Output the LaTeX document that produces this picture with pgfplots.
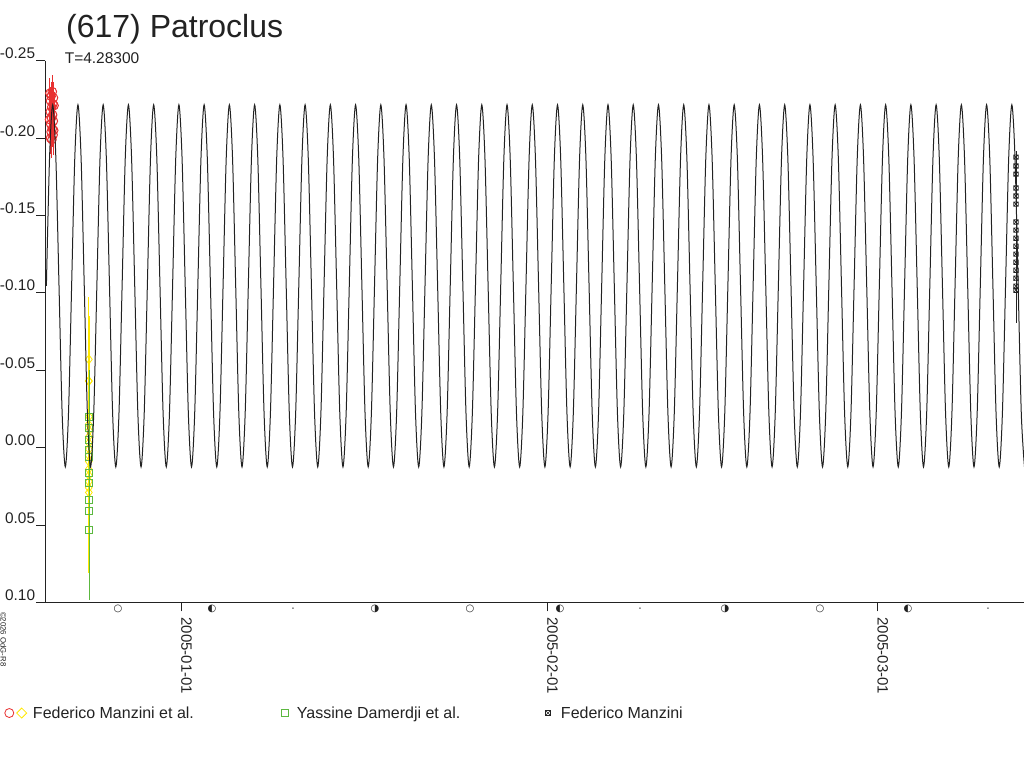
\documentclass[border=0pt]{standalone}
\usepackage{fontspec}
\setmainfont{Liberation Sans}
\newfontfamily\dejavu{DejaVu Sans}
\usepackage{pgfplots}
\pgfplotsset{compat=1.18}
\definecolor{cred}{RGB}{232,48,48}
\definecolor{cyellow}{RGB}{255,232,0}
\definecolor{cgreen}{RGB}{92,184,64}
\definecolor{ctext}{RGB}{34,34,34}
\pgfdeclareplotmark{sqx}{%
  \pgfpathrectangle{\pgfpoint{-\pgfplotmarksize}{-\pgfplotmarksize}}{\pgfpoint{2\pgfplotmarksize}{2\pgfplotmarksize}}%
  \pgfpathmoveto{\pgfpoint{-\pgfplotmarksize}{-\pgfplotmarksize}}%
  \pgfpathlineto{\pgfpoint{\pgfplotmarksize}{\pgfplotmarksize}}%
  \pgfpathmoveto{\pgfpoint{-\pgfplotmarksize}{\pgfplotmarksize}}%
  \pgfpathlineto{\pgfpoint{\pgfplotmarksize}{-\pgfplotmarksize}}%
  \pgfusepathqstroke}
\begin{document}
\begin{tikzpicture}[x=1bp,y=1bp]
\useasboundingbox (-45.3,-165.7) rectangle (978.7,602.3);
\begin{axis}[
  at={(0,0)}, anchor=south west, scale only axis,
  width=978.7bp, height=541.6bp,
  xmin=-11.542, xmax=71.398,
  ymin=-0.25, ymax=0.10, y dir=reverse,
  axis x line=bottom, axis y line=left,
  axis line style={-, ctext, line width=0.8bp},
  xtick={0,31,59},
  xticklabels={2005-01-01,2005-02-01,2005-03-01},
  ytick={-0.25,-0.2,-0.15,-0.1,-0.05,0,0.05,0.1},
  yticklabels={-0.25,-0.20,-0.15,-0.10,-0.05,0.00,0.05,0.10},
  tick align=outside, major tick length=9bp,
  tick style={ctext, line width=0.8bp},
  minor tick num=0,
  yticklabel style={font=\fontsize{15.4bp}{18bp}\selectfont, text=ctext, anchor=south east, inner sep=0pt, xshift=-1bp, yshift=1.5bp},
  xticklabel style={font=\fontsize{15bp}{18bp}\selectfont, text=ctext, yshift=-6bp, rotate=-90, anchor=base west, inner sep=0pt},
  clip mode=individual,
  legend columns=3,
  legend style={at={(axis description cs:-0.0422,-0.2044)}, anchor=west, draw=none, fill=none,
    inner sep=0pt, outer sep=0pt, column sep=0pt, row sep=0pt,
    font=\fontsize{16bp}{19bp}\selectfont, text=ctext, nodes={inner sep=0pt, outer sep=0pt}},
]
% Federico Manzini et al. (red)
\addplot[only marks, mark=o, mark size=4.3bp, cred, mark options={line width=1bp},
  legend image code/.code={
    \path[draw=none, fill=none] (0bp,-6bp) rectangle (29bp,6bp);
    \draw[cred, line width=0.8bp] (5.3bp,0bp) circle (4.5bp);
    \draw[cyellow, line width=0.8bp] (17.7bp,5bp) -- (22.7bp,0bp) -- (17.7bp,-5bp) -- (12.7bp,0bp) -- cycle;
  },
  error bars/.cd, y dir=both, y explicit, error mark=none, error bar style={cred, line width=1bp},
  ]
  coordinates {
  (-11.15,-0.229) +- (0,0.010) (-11.05,-0.227) +- (0,0.009) (-10.95,-0.230) +- (0,0.011)
  (-10.85,-0.226) +- (0,0.010) (-11.10,-0.224) +- (0,0.009) (-10.90,-0.222) +- (0,0.010)
  (-11.00,-0.220) +- (0,0.011) (-10.80,-0.221) +- (0,0.009) (-11.12,-0.217) +- (0,0.010)
  (-10.92,-0.215) +- (0,0.009) (-11.02,-0.213) +- (0,0.010) (-10.86,-0.211) +- (0,0.011)
  (-11.08,-0.209) +- (0,0.010) (-10.95,-0.206) +- (0,0.012) (-11.05,-0.204) +- (0,0.010)
  (-10.88,-0.202) +- (0,0.013) (-11.10,-0.200) +- (0,0.010) (-10.98,-0.199) +- (0,0.012)
  (-10.83,-0.205) +- (0,0.010) (-11.18,-0.212) +- (0,0.009)
  };
\addlegendentry{\makebox[246bp][l]{Federico Manzini et al.}}
% Federico Manzini et al. (yellow)
\addplot[only marks, mark=diamond, mark size=4.5bp, cyellow, mark options={line width=0.8bp}, forget plot,
  error bars/.cd, y dir=both, y explicit, error mark=none, error bar style={cyellow, line width=2.2bp},
  ]
  coordinates {
  (-7.85,-0.057) +- (0,0.028) (-7.86,-0.043) +- (0,0.030) (-7.84,-0.020) +- (0,0.035)
  (-7.87,-0.015) +- (0,0.040) (-7.83,-0.011) +- (0,0.035) (-7.86,-0.007) +- (0,0.040)
  (-7.85,-0.003) +- (0,0.035) (-7.84,0.001) +- (0,0.040) (-7.87,0.005) +- (0,0.045)
  (-7.85,0.009) +- (0,0.040) (-7.86,0.014) +- (0,0.045) (-7.84,0.018) +- (0,0.050)
  (-7.85,0.022) +- (0,0.050) (-7.86,0.026) +- (0,0.055) (-7.85,0.029) +- (0,0.050)
  };
\addplot[only marks, mark=diamond, mark size=4.5bp, cyellow, mark options={line width=0.8bp}, forget plot,
  error bars/.cd, y dir=both, y explicit, error mark=none, error bar style={cyellow, line width=0.9bp},
  ]
  coordinates {
  (-7.85,-0.043) +- (0,0.054)
  };
% Yassine Damerdji et al. (green)
\addplot[only marks, mark=square, mark size=3.5bp, cgreen, mark options={line width=0.8bp},
  legend image code/.code={
    \path[draw=none, fill=none] (0bp,-6bp) rectangle (18bp,6bp);
    \draw[cgreen, line width=0.8bp] (2.5bp,-3.5bp) rectangle (9.5bp,3.5bp);
  },
  error bars/.cd, y dir=both, y explicit, error mark=none, error bar style={cgreen, line width=0.8bp},
  ]
  coordinates {
  (-7.81,-0.0199) +- (0,0.030) (-7.81,-0.0126) +- (0,0.030) (-7.81,-0.0049) +- (0,0.030)
  (-7.81,0.0016) +- (0,0.030) (-7.81,0.0061) +- (0,0.030) (-7.81,0.0165) +- (0,0.035)
  (-7.81,0.0229) +- (0,0.035) (-7.81,0.0339) +- (0,0.040) (-7.81,0.0410) +- (0,0.040)
  (-7.81,0.0533) +- (0,0.045)
  };
\addlegendentry{\makebox[245bp][l]{Yassine Damerdji et al.}}
% Federico Manzini (black)
\addplot[only marks, mark=sqx, mark size=2.3bp, ctext, mark options={line width=0.6bp},
  legend image code/.code={
    \path[draw=none, fill=none] (0bp,-6bp) rectangle (19bp,6bp);
    \draw[ctext, line width=0.6bp] (3.7bp,-2.3bp) rectangle (8.3bp,2.3bp);
    \draw[ctext, line width=0.6bp] (3.7bp,-2.3bp) -- (8.3bp,2.3bp) (3.7bp,2.3bp) -- (8.3bp,-2.3bp);
  },
  error bars/.cd, y dir=both, y explicit, error mark=none, error bar style={ctext, line width=0.8bp},
  ]
  coordinates {
  (70.72,-0.1877) +- (0,0.004) (70.72,-0.1819) +- (0,0.006) (70.72,-0.1767) +- (0,0.008)
  (70.72,-0.1677) +- (0,0.010) (70.72,-0.1625) +- (0,0.010) (70.72,-0.1573) +- (0,0.010)
  (70.72,-0.1457) +- (0,0.012) (70.72,-0.1405) +- (0,0.012) (70.72,-0.1353) +- (0,0.014)
  (70.72,-0.1301) +- (0,0.014) (70.72,-0.1250) +- (0,0.015) (70.72,-0.1198) +- (0,0.016)
  (70.72,-0.1146) +- (0,0.018) (70.72,-0.1094) +- (0,0.020) (70.72,-0.1043) +- (0,0.022)
  (70.72,-0.1017) +- (0,0.021)
  };
\addlegendentry{\makebox[150bp][l]{Federico Manzini}}
% model lightcurve
\addplot[ctext, line width=1bp, smooth, forget plot] coordinates {
(-11.450,-0.1045) (-11.182,-0.1872)
(-10.915,-0.2215) (-10.648,-0.1872) (-10.380,-0.1045) (-10.113,-0.0218) (-9.845,0.0125) (-9.578,-0.0218) (-9.311,-0.1045) (-9.043,-0.1872)
(-8.776,-0.2215) (-8.509,-0.1872) (-8.241,-0.1045) (-7.974,-0.0218) (-7.706,0.0125) (-7.439,-0.0218) (-7.172,-0.1045) (-6.904,-0.1872)
(-6.637,-0.2215) (-6.370,-0.1872) (-6.102,-0.1045) (-5.835,-0.0218) (-5.567,0.0125) (-5.300,-0.0218) (-5.033,-0.1045) (-4.765,-0.1872)
(-4.498,-0.2215) (-4.231,-0.1872) (-3.963,-0.1045) (-3.696,-0.0218) (-3.428,0.0125) (-3.161,-0.0218) (-2.894,-0.1045) (-2.626,-0.1872)
(-2.359,-0.2215) (-2.092,-0.1872) (-1.824,-0.1045) (-1.557,-0.0218) (-1.289,0.0125) (-1.022,-0.0218) (-0.755,-0.1045) (-0.487,-0.1872)
(-0.220,-0.2215) (0.047,-0.1872) (0.315,-0.1045) (0.582,-0.0218) (0.850,0.0125) (1.117,-0.0218) (1.384,-0.1045) (1.652,-0.1872)
(1.919,-0.2215) (2.186,-0.1872) (2.454,-0.1045) (2.721,-0.0218) (2.989,0.0125) (3.256,-0.0218) (3.523,-0.1045) (3.791,-0.1872)
(4.058,-0.2215) (4.325,-0.1872) (4.593,-0.1045) (4.860,-0.0218) (5.128,0.0125) (5.395,-0.0218) (5.662,-0.1045) (5.930,-0.1872)
(6.197,-0.2215) (6.464,-0.1872) (6.732,-0.1045) (6.999,-0.0218) (7.267,0.0125) (7.534,-0.0218) (7.801,-0.1045) (8.069,-0.1872)
(8.336,-0.2215) (8.603,-0.1872) (8.871,-0.1045) (9.138,-0.0218) (9.406,0.0125) (9.673,-0.0218) (9.940,-0.1045) (10.208,-0.1872)
(10.475,-0.2215) (10.742,-0.1872) (11.010,-0.1045) (11.277,-0.0218) (11.545,0.0125) (11.812,-0.0218) (12.079,-0.1045) (12.347,-0.1872)
(12.614,-0.2215) (12.881,-0.1872) (13.149,-0.1045) (13.416,-0.0218) (13.684,0.0125) (13.951,-0.0218) (14.218,-0.1045) (14.486,-0.1872)
(14.753,-0.2215) (15.020,-0.1872) (15.288,-0.1045) (15.555,-0.0218) (15.823,0.0125) (16.090,-0.0218) (16.357,-0.1045) (16.625,-0.1872)
(16.892,-0.2215) (17.159,-0.1872) (17.427,-0.1045) (17.694,-0.0218) (17.962,0.0125) (18.229,-0.0218) (18.496,-0.1045) (18.764,-0.1872)
(19.031,-0.2215) (19.298,-0.1872) (19.566,-0.1045) (19.833,-0.0218) (20.101,0.0125) (20.368,-0.0218) (20.635,-0.1045) (20.903,-0.1872)
(21.170,-0.2215) (21.437,-0.1872) (21.705,-0.1045) (21.972,-0.0218) (22.240,0.0125) (22.507,-0.0218) (22.774,-0.1045) (23.042,-0.1872)
(23.309,-0.2215) (23.576,-0.1872) (23.844,-0.1045) (24.111,-0.0218) (24.379,0.0125) (24.646,-0.0218) (24.913,-0.1045) (25.181,-0.1872)
(25.448,-0.2215) (25.715,-0.1872) (25.983,-0.1045) (26.250,-0.0218) (26.518,0.0125) (26.785,-0.0218) (27.052,-0.1045) (27.320,-0.1872)
(27.587,-0.2215) (27.854,-0.1872) (28.122,-0.1045) (28.389,-0.0218) (28.657,0.0125) (28.924,-0.0218) (29.191,-0.1045) (29.459,-0.1872)
(29.726,-0.2215) (29.993,-0.1872) (30.261,-0.1045) (30.528,-0.0218) (30.796,0.0125) (31.063,-0.0218) (31.330,-0.1045) (31.598,-0.1872)
(31.865,-0.2215) (32.132,-0.1872) (32.400,-0.1045) (32.667,-0.0218) (32.935,0.0125) (33.202,-0.0218) (33.469,-0.1045) (33.737,-0.1872)
(34.004,-0.2215) (34.271,-0.1872) (34.539,-0.1045) (34.806,-0.0218) (35.074,0.0125) (35.341,-0.0218) (35.608,-0.1045) (35.876,-0.1872)
(36.143,-0.2215) (36.410,-0.1872) (36.678,-0.1045) (36.945,-0.0218) (37.213,0.0125) (37.480,-0.0218) (37.747,-0.1045) (38.015,-0.1872)
(38.282,-0.2215) (38.549,-0.1872) (38.817,-0.1045) (39.084,-0.0218) (39.352,0.0125) (39.619,-0.0218) (39.886,-0.1045) (40.154,-0.1872)
(40.421,-0.2215) (40.688,-0.1872) (40.956,-0.1045) (41.223,-0.0218) (41.491,0.0125) (41.758,-0.0218) (42.025,-0.1045) (42.293,-0.1872)
(42.560,-0.2215) (42.827,-0.1872) (43.095,-0.1045) (43.362,-0.0218) (43.630,0.0125) (43.897,-0.0218) (44.164,-0.1045) (44.432,-0.1872)
(44.699,-0.2215) (44.966,-0.1872) (45.234,-0.1045) (45.501,-0.0218) (45.769,0.0125) (46.036,-0.0218) (46.303,-0.1045) (46.571,-0.1872)
(46.838,-0.2215) (47.105,-0.1872) (47.373,-0.1045) (47.640,-0.0218) (47.908,0.0125) (48.175,-0.0218) (48.442,-0.1045) (48.710,-0.1872)
(48.977,-0.2215) (49.244,-0.1872) (49.512,-0.1045) (49.779,-0.0218) (50.047,0.0125) (50.314,-0.0218) (50.581,-0.1045) (50.849,-0.1872)
(51.116,-0.2215) (51.383,-0.1872) (51.651,-0.1045) (51.918,-0.0218) (52.186,0.0125) (52.453,-0.0218) (52.720,-0.1045) (52.988,-0.1872)
(53.255,-0.2215) (53.522,-0.1872) (53.790,-0.1045) (54.057,-0.0218) (54.325,0.0125) (54.592,-0.0218) (54.859,-0.1045) (55.127,-0.1872)
(55.394,-0.2215) (55.661,-0.1872) (55.929,-0.1045) (56.196,-0.0218) (56.464,0.0125) (56.731,-0.0218) (56.998,-0.1045) (57.266,-0.1872)
(57.533,-0.2215) (57.800,-0.1872) (58.068,-0.1045) (58.335,-0.0218) (58.603,0.0125) (58.870,-0.0218) (59.137,-0.1045) (59.405,-0.1872)
(59.672,-0.2215) (59.939,-0.1872) (60.207,-0.1045) (60.474,-0.0218) (60.742,0.0125) (61.009,-0.0218) (61.276,-0.1045) (61.544,-0.1872)
(61.811,-0.2215) (62.078,-0.1872) (62.346,-0.1045) (62.613,-0.0218) (62.881,0.0125) (63.148,-0.0218) (63.415,-0.1045) (63.683,-0.1872)
(63.950,-0.2215) (64.217,-0.1872) (64.485,-0.1045) (64.752,-0.0218) (65.020,0.0125) (65.287,-0.0218) (65.554,-0.1045) (65.822,-0.1872)
(66.089,-0.2215) (66.356,-0.1872) (66.624,-0.1045) (66.891,-0.0218) (67.159,0.0125) (67.426,-0.0218) (67.693,-0.1045) (67.961,-0.1872)
(68.228,-0.2215) (68.495,-0.1872) (68.763,-0.1045) (69.030,-0.0218) (69.298,0.0125) (69.565,-0.0218) (69.832,-0.1045) (70.100,-0.1872)
(70.367,-0.2215) (70.634,-0.1872) (70.902,-0.1045) (71.169,-0.0218) (71.437,0.0125)
};
\end{axis}
% x axis stub left of y axis
\draw[ctext, line width=0.8bp] (-9.3,0) -- (0,0);
% title
\node[anchor=base west, inner sep=0pt, text=ctext, font=\fontsize{32bp}{38bp}\selectfont] at (20.7,564.8) {(617) Patroclus};
\node[anchor=base west, inner sep=0pt, text=ctext, font=\fontsize{15.5bp}{18bp}\selectfont] at (19.3,539.0) {T=4.28300};
% moon phases
\begin{scope}[every node/.style={inner sep=0pt, text=ctext, font=\dejavu\fontsize{10bp}{11bp}\selectfont}]
\node at (72.7,-6.7) {○}; \node at (424.7,-6.7) {○}; \node at (774.7,-6.7) {○};
\node at (166.7,-6.7) {◐}; \node at (514.7,-6.7) {◐}; \node at (862.7,-6.7) {◐};
\node at (329.7,-6.7) {◑}; \node at (679.7,-6.7) {◑};
\node[font=\dejavu\fontsize{5bp}{6bp}\selectfont] at (247.7,-6.7) {•};
\node[font=\dejavu\fontsize{5bp}{6bp}\selectfont] at (594.7,-6.7) {•};
\node[font=\dejavu\fontsize{5bp}{6bp}\selectfont] at (942.7,-6.7) {•};
\end{scope}
% copyright
\node[rotate=-90, anchor=west, inner sep=0pt, text=ctext, font=\fontsize{7.8bp}{8bp}\selectfont] at (-41.8,-9.7) {©2026 OdG-R8};
\end{tikzpicture}
\end{document}
